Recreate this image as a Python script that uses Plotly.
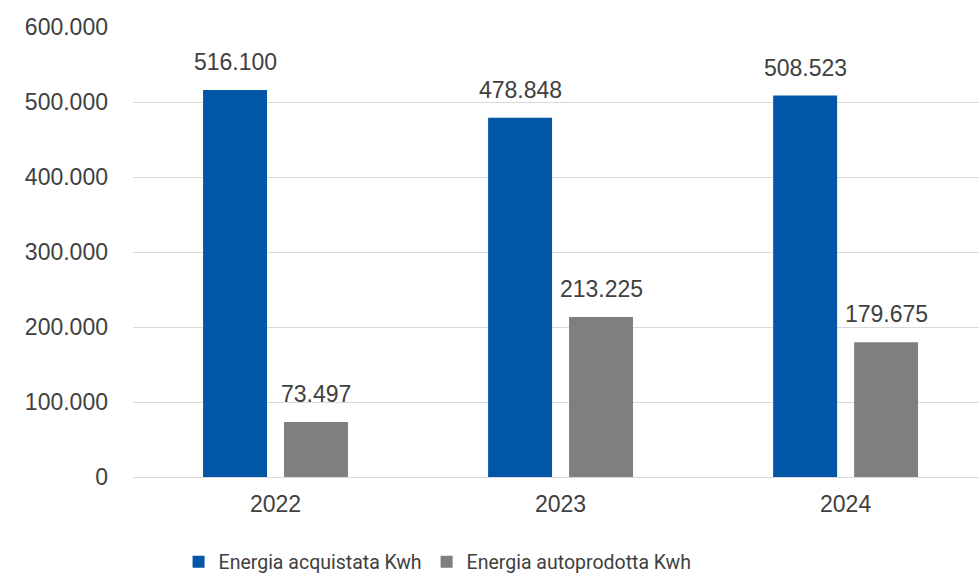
import plotly.graph_objects as go

years = ["2022", "2023", "2024"]
acquistata = [516100, 478848, 508523]
autoprodotta = [73497, 213225, 179675]
series_names = ["Energia acquistata Kwh", "Energia autoprodotta Kwh"]
y_ticks = [0, 100000, 200000, 300000, 400000, 500000, 600000]

BLUE = "#0157A6"
GRAY = "#7F7F7F"
TXT = "#404040"
FONT = "Liberation Sans, Arial, sans-serif"

fig = go.Figure()
fig.add_trace(go.Bar(x=years, y=acquistata, name=series_names[0], marker_color=BLUE, marker_line_width=0))
fig.add_trace(go.Bar(x=years, y=autoprodotta, name=series_names[1], marker_color=GRAY, marker_line_width=0))

def fmt(v):
    return f"{v:,}".replace(",", ".")

annotations = []
for vals, shift in ((acquistata, -40.5), (autoprodotta, 40.5)):
    for i, v in enumerate(vals):
        annotations.append(dict(x=i, y=v, xref="x", yref="y", text=fmt(v), showarrow=False,
                                xshift=shift, yanchor="bottom", yshift=13,
                                font=dict(family=FONT, size=23, color=TXT)))

fig.update_layout(
    width=979, height=577,
    margin=dict(l=133, r=0, t=27, b=100),
    paper_bgcolor="white", plot_bgcolor="white",
    barmode="group", bargap=0.432, bargroupgap=0.21,
    separators=",.",
    font=dict(family=FONT, size=23, color=TXT),
    showlegend=True,
    legend=dict(orientation="h", xref="paper", x=0.36, xanchor="center",
                yref="container", y=0.026, yanchor="middle",
                font=dict(family="Roboto, sans-serif", size=19.5, color=TXT),
                itemwidth=30, tracegroupgap=0),
    annotations=annotations,
)
fig.update_xaxes(type="category", range=[-0.5, 2.468], showgrid=False, showline=False, ticks="",
                 tickfont=dict(family=FONT, size=23, color=TXT), ticklabelstandoff=11)
fig.update_yaxes(range=[0, 600000], tickvals=y_ticks, tickformat=",d", showgrid=True,
                 gridcolor="#D9D9D9", gridwidth=1, zeroline=True, zerolinecolor="#D9D9D9",
                 zerolinewidth=1, showline=False, ticks="",
                 tickfont=dict(family=FONT, size=23, color=TXT), ticklabelstandoff=24)

fig.write_html("out.html", config={"displayModeBar": False},
               post_script="document.body.style.margin='0';document.body.style.padding='0';")
